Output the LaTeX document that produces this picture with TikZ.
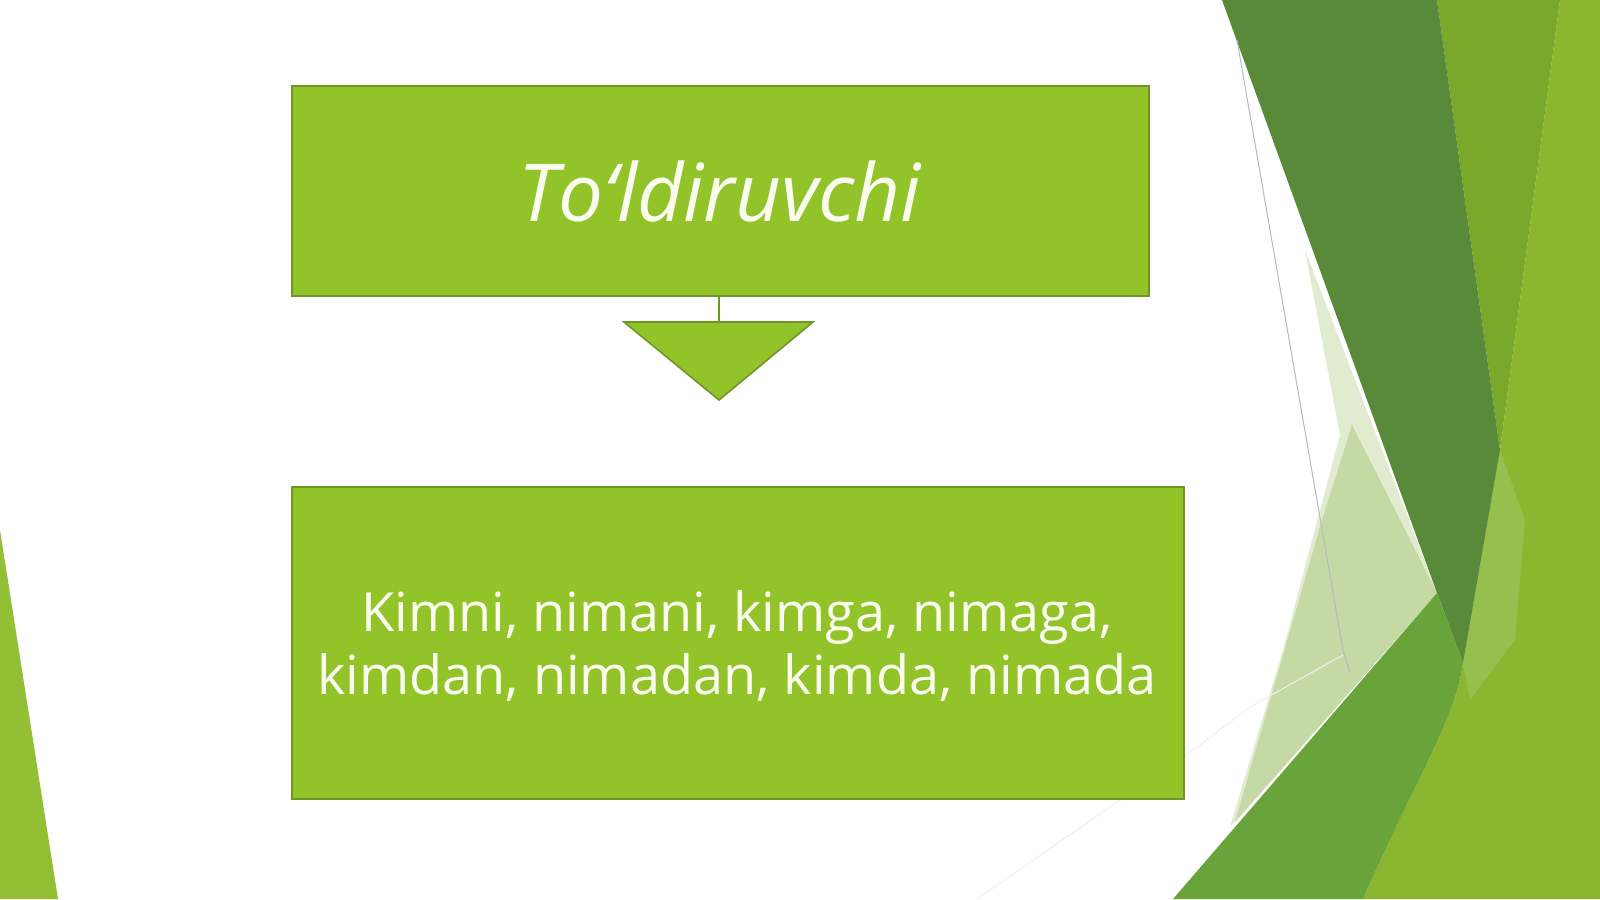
\documentclass[tikz,border=0pt]{standalone}
\usepackage{fontspec}
\setmainfont{Open Sans}
\begin{document}
\begin{tikzpicture}[x=0.5pt,y=-0.5pt,
  boxfill/.style={fill=boxgreen,draw=boxedge,line width=1pt,inner sep=0pt,anchor=north west}]
\definecolor{boxgreen}{RGB}{146,196,42}
\definecolor{boxedge}{RGB}{110,150,38}
\definecolor{darkband}{RGB}{88,138,58}
\definecolor{oliveband}{RGB}{122,168,42}
\definecolor{rightband}{RGB}{138,182,48}
\definecolor{softband}{RGB}{150,192,78}
\definecolor{midband}{RGB}{104,164,58}
\definecolor{paleband}{RGB}{197,217,165}
\definecolor{palerband}{RGB}{224,235,207}
\definecolor{leftband}{RGB}{147,191,53}
\definecolor{textwhite}{RGB}{250,252,240}
\useasboundingbox (0,0) rectangle (1600,899);
\fill[white] (0,0) rectangle (1600,899);
% background decoration
\fill[leftband] (0,530) -- (58,899) -- (0,899) -- cycle;
\fill[palerband] (1305,250) -- (1437,593) -- (1230,827) -- (1283,650) -- (1340,435) -- cycle;
\fill[paleband] (1352,425) -- (1437,593) -- (1235,822) -- (1322,520) -- cycle;
\fill[rightband] (1560,0) -- (1600,0) -- (1600,899) -- (1363,899) .. controls (1420,770) and (1455,720) .. (1463,663) -- (1500,450) -- cycle;
\fill[softband] (1500,450) -- (1525,520) -- (1515,640) -- (1470,700) -- (1463,663) -- cycle;
\fill[oliveband] (1437,0) -- (1560,0) -- (1500,450) -- cycle;
\fill[darkband] (1222,0) -- (1437,0) -- (1500,450) -- (1463,663) -- (1437,593) -- cycle;
\fill[midband] (1173,899) -- (1437,593) -- (1463,663) .. controls (1455,720) and (1420,770) .. (1363,899) -- cycle;
\draw[gray!55,line width=0.5pt] (1237,40) -- (1343,650) -- (1350,673);
\draw[gray!12,line width=0.5pt] (1343,655) -- (1250,707) -- (1200,745) -- (1087,823) -- (977,899);
% diagram
\node[boxfill,minimum width=428.5pt,minimum height=105pt] (top) at (291,85) {};
\node[text=textwhite,font=\fontsize{40}{48}\selectfont\itshape] (toptext) at (720,191) {To‘ldiruvchi};
\node[boxfill,minimum width=446pt,minimum height=156pt] (bot) at (291,486) {};
\node[text=textwhite,font=\fontsize{27}{31.6}\selectfont,align=center] (bottext) at (737,646) {Kimni, nimani, kimga, nimaga,\\kimdan, nimadan, kimda, nimada};
\coordinate (tl) at (624,322);
\coordinate (tr) at (813,322);
\coordinate (tb) at (719,400);
\coordinate (tt) at (719,322);
\draw[boxedge,line width=1pt] (top.south -| tt) -- (tt);
\fill[boxgreen,draw=boxedge,line width=0.8pt] (tl) -- (tr) -- (tb) -- cycle;
\end{tikzpicture}
\end{document}
